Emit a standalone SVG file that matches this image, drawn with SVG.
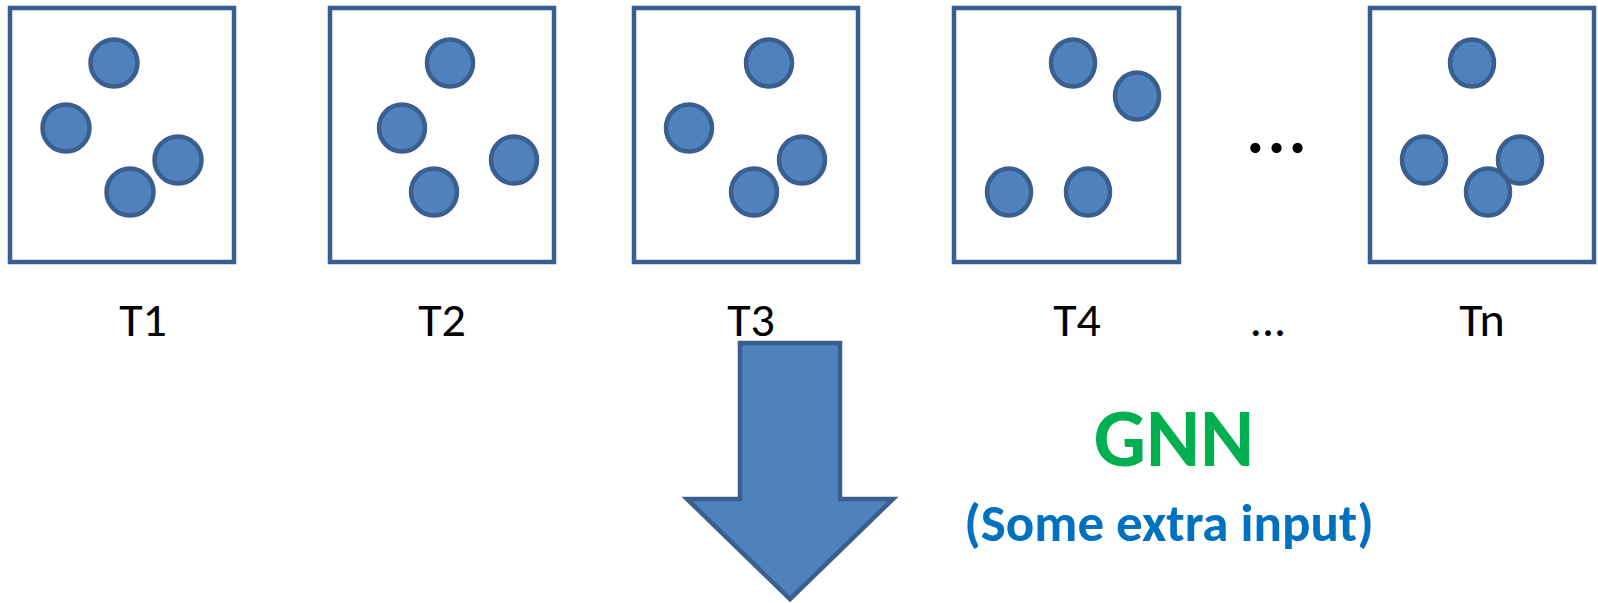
<svg xmlns="http://www.w3.org/2000/svg" width="1598" height="603" viewBox="0 0 1598 603">
<style>
.frame{fill:#ffffff;stroke:#3A5F8E;stroke-width:4.5}
.dot{fill:#4F81BD;stroke:#3A5F8E;stroke-width:4.5}
.lbl{font-family:Carlito,"Liberation Sans",sans-serif;font-size:48px;fill:#000000;text-anchor:middle}
</style>
<rect width="1598" height="603" fill="#ffffff"/>
<g id="T1">
<rect class="frame" x="10" y="8" width="224" height="254"/>
<circle class="dot" cx="114" cy="63" r="23.5"/>
<circle class="dot" cx="66" cy="128" r="23.5"/>
<circle class="dot" cx="178" cy="160" r="23.5"/>
<circle class="dot" cx="130" cy="192" r="23.5"/>
<text class="lbl" x="143" y="336">T1</text>
</g>
<g id="T2">
<rect class="frame" x="330" y="8" width="224" height="254"/>
<ellipse class="dot" cx="450" cy="63" rx="23" ry="23.5"/>
<ellipse class="dot" cx="402" cy="128" rx="23" ry="23.5"/>
<ellipse class="dot" cx="514" cy="160" rx="23" ry="23.5"/>
<ellipse class="dot" cx="434" cy="192" rx="23" ry="23.5"/>
<text class="lbl" x="442" y="336">T2</text>
</g>
<g id="T3">
<rect class="frame" x="634" y="8" width="224" height="254"/>
<ellipse class="dot" cx="769" cy="63" rx="23" ry="23.5"/>
<ellipse class="dot" cx="689" cy="128" rx="23" ry="23.5"/>
<ellipse class="dot" cx="802" cy="160" rx="23" ry="23.5"/>
<ellipse class="dot" cx="754" cy="192" rx="23" ry="23.5"/>
<text class="lbl" x="751" y="336">T3</text>
</g>
<g id="T4">
<rect class="frame" x="954" y="8" width="225" height="254"/>
<ellipse class="dot" cx="1073" cy="63" rx="22" ry="23.5"/>
<ellipse class="dot" cx="1137" cy="96" rx="22" ry="23.5"/>
<ellipse class="dot" cx="1009" cy="192" rx="22" ry="23.5"/>
<ellipse class="dot" cx="1088" cy="192" rx="22" ry="23.5"/>
<text class="lbl" x="1077" y="336">T4</text>
</g>
<g id="ellipsis">
<text x="1278" y="153" font-family="Carlito,'Liberation Sans',sans-serif" font-size="68" font-weight="bold" letter-spacing="3" text-anchor="middle" fill="#000000">...</text>
<text class="lbl" x="1268" y="336">...</text>
</g>
<g id="Tn">
<rect class="frame" x="1370" y="8" width="224" height="254"/>
<ellipse class="dot" cx="1472" cy="63" rx="22" ry="23.5"/>
<ellipse class="dot" cx="1424" cy="160" rx="22" ry="23.5"/>
<ellipse class="dot" cx="1520" cy="160" rx="22" ry="23.5"/>
<ellipse class="dot" cx="1488" cy="192" rx="22" ry="23.5"/>
<text class="lbl" x="1482" y="336">Tn</text>
</g>
<g id="connectors">
<path d="M740,343 H840 V499 H893 L790,599 L687,499 H740 Z" fill="#4F81BD" stroke="#3A5F8E" stroke-width="4.5" stroke-miterlimit="10"/>
</g>
<g id="GNN">
<text x="1174" y="466" font-family="Carlito,'Liberation Sans',sans-serif" font-size="82" font-weight="bold" text-anchor="middle" fill="#00B050">GNN</text>
<text x="1169" y="541" font-family="Carlito,'Liberation Sans',sans-serif" font-size="53" font-weight="bold" text-anchor="middle" fill="#0070C0">(Some extra input)</text>
</g>
</svg>
